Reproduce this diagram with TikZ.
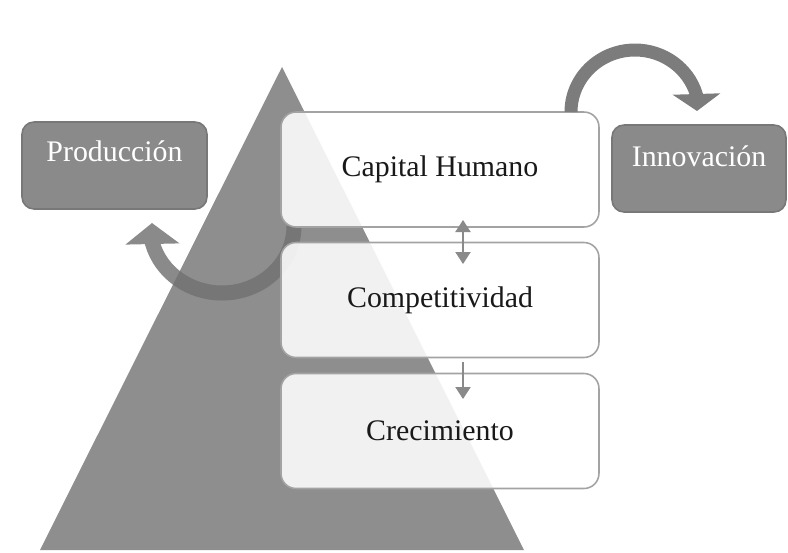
\documentclass[tikz,border=0pt]{standalone}
\usepackage{fontspec}
\setmainfont{Liberation Serif}
\usetikzlibrary{calc, arrows.meta}

\definecolor{PyramidGray}{HTML}{8E8E8E}
\definecolor{ArrowGray}{HTML}{8A8A8A}
\definecolor{ArrowDark}{HTML}{767676}
\definecolor{TopArrowGray}{HTML}{7C7C7C}
\definecolor{BoxBorder}{HTML}{A3A3A3}
\definecolor{SideFill}{HTML}{8A8A8A}
\definecolor{SideBorder}{HTML}{787878}

\tikzset{
  mainbox/.style = {draw = BoxBorder, line width = 0.9pt, fill = white, fill opacity = 0.88,
    text opacity = 1, rounded corners = 0.3cm, minimum width = 6.36cm, minimum height = 2.3cm,
    font = \fontsize{17}{20}\selectfont, text = black!90},
  sidebox/.style = {draw = SideBorder, line width = 0.9pt, fill = SideFill,
    rounded corners = 0.24cm, minimum height = 1.74cm},
  sidetext/.style = {text = white, font = \fontsize{17}{20}\selectfont},
  leftarrow/.style = {draw = ArrowGray, line width = 0.3cm,
    -{Triangle[width = 1.06cm, length = 0.42cm]}},
  toparrow/.style = {draw = TopArrowGray, line width = 0.26cm,
    -{Triangle[width = 0.94cm, length = 0.34cm]}},
  smallarrow/.style = {draw = ArrowGray, line width = 0.04cm}
}

\begin{document}
\begin{tikzpicture}[x = 0.02cm, y = -0.02cm]
\useasboundingbox (0, 0) rectangle (788, 552);

\coordinate (A) at (40, 550);
\coordinate (B) at (282, 67);
\coordinate (C) at (524, 550);
\fill[PyramidGray] (A) -- (B) -- (C) -- cycle;

% curved arrow down to the left
\coordinate (L) at (294, 226);
\coordinate (LTip) at (152, 223);
\draw[leftarrow] (L) arc[start angle = 0, end angle = 165, x radius = 72, y radius = 67] -- (LTip);
\begin{scope}
  \clip (A) -- (B) -- (C) -- cycle;
  \draw[leftarrow, draw = ArrowDark] (L) arc[start angle = 0, end angle = 165, x radius = 72, y radius = 67] -- (LTip);
\end{scope}

\node[mainbox] (capital) at (440, 169.5) {Capital Humano};
\node[mainbox] (compet) at (440, 300) {Competitividad};
\node[mainbox] (crec) at (440, 431) {Crecimiento};

\coordinate (U1) at (463, 220);
\coordinate (D1) at (463, 264);
\draw[smallarrow, {Triangle[width = 0.3cm, length = 0.24cm]}-{Triangle[width = 0.3cm, length = 0.24cm]}] (U1) -- (D1);
\coordinate (U2) at (463, 362);
\coordinate (D2) at (463, 399);
\draw[smallarrow, -{Triangle[width = 0.3cm, length = 0.24cm]}] (U2) -- (D2);

\node[sidebox, minimum width = 3.7cm] (prod) at (114.5, 165.5) {};
\node[sidetext] at ($(prod.north) + (0, 30)$) {Producción};
\node[sidebox, minimum width = 3.48cm] (innov) at (699, 168.5) {};
\node[sidetext] at ($(innov.north) + (0, 32)$) {Innovación};

% curved arrow over to the right
\coordinate (T) at (571, 112);
\coordinate (TTip) at (697, 111);
\draw[toparrow] (T) arc[start angle = 180, end angle = 344, x radius = 64, y radius = 62] -- (TTip);

\end{tikzpicture}
\end{document}
